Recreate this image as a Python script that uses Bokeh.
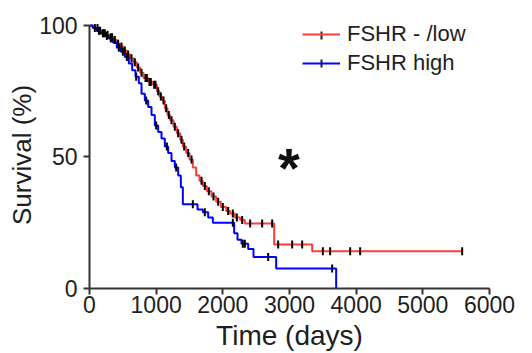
import numpy as np
from bokeh.plotting import figure
from bokeh.models import Range1d, Label, Legend, LegendItem, FixedTicker, BoxAnnotation, Title
from bokeh.embed import file_html
from bokeh.resources import INLINE

# ---- data: FSHR -/low (red) ----
low_times = [40, 90, 140, 190, 250, 300, 360, 410, 460, 510, 560, 610, 660, 710, 760,
             810, 880, 950, 1010, 1050, 1090, 1130, 1170, 1210, 1260, 1310, 1360, 1400,
             1450, 1500, 1550, 1600, 1650, 1700, 1760, 1830, 1900, 1970, 2050, 2110,
             2180, 2260, 2330, 2770, 3340]
low_surv = [99.5, 99, 98, 97, 96.5, 95.5, 94.5, 93, 92, 90.5, 89, 87.5, 86, 84, 82,
            80, 78.5, 77.5, 75, 73, 71.5, 68.5, 66, 64, 61.5, 59, 56.5, 54,
            51.5, 49, 46, 43, 41, 39, 37, 35, 33, 31, 29.5, 28.5,
            27, 26, 24.7, 16.7, 14.2]
low_end = 5590
low_censor = [120, 160, 210, 230, 270, 320, 340, 380, 430, 480, 530, 580, 630, 680, 730,
              780, 840, 860, 900, 920, 970, 990, 1030, 1070, 1110, 1150, 1190, 1230,
              1280, 1330, 1380, 1420, 1480, 1530, 1680, 1730, 1790, 1860, 1930, 2000,
              2080, 2150, 2210, 2290, 2410, 2590, 2740, 2830, 3040, 3190, 3500, 3610,
              3910, 4060, 5590]

# ---- data: FSHR high (blue) ----
high_times = [50, 110, 170, 230, 290, 350, 410, 470, 530, 590, 640, 690, 740, 780, 830,
              880, 930, 980, 1030, 1080, 1130, 1180, 1230, 1280, 1330, 1370, 1400, 1620,
              1700, 1780, 1850, 2170, 2220, 2280, 2380, 2460, 2800, 3700]
high_surv = [99, 98, 97, 96, 95, 93.5, 91.5, 90, 88, 85.5, 83, 80.5, 78, 74, 71.5,
             69, 66, 62, 59.5, 57, 54, 51.5, 48.5, 46, 43, 38.5, 32, 30,
             29, 27, 25, 21, 18.5, 17, 15, 12, 7.6, 0]
high_end = 3700
high_censor = [80, 140, 200, 260, 320, 440, 500, 560, 700, 850, 1000, 1160, 1300, 1550,
               1730, 2150, 2300, 2330, 2680, 3640]

labels = ["FSHR - /low", "FSHR high"]
x_ticks = [0, 1000, 2000, 3000, 4000, 5000, 6000]
y_ticks = [0, 50, 100]
x_title = "Time (days)"
y_title = "Survival (%)"


def step_xy(times, surv, end):
    xs, ys, prev = [0], [100], 100
    for t, s in zip(times, surv):
        xs += [t, t]
        ys += [prev, s]
        prev = s
    if end > xs[-1]:
        xs.append(end)
        ys.append(prev)
    return xs, ys


def surv_at(times, surv, t):
    val = 100
    for tt, s in zip(times, surv):
        if tt <= t:
            val = s
    return val


FONT = "Liberation Sans"
RED = "#ff3b3b"
BLUE = "#0000ff"
TXT = "#1e1e1e"

p = figure(width=532, height=353, output_backend="svg", toolbar_location=None,
           x_range=Range1d(0, 6000), y_range=Range1d(0, 101.5),
           min_border_left=89, min_border_right=43, min_border_top=21,
           min_border_bottom=65)
p.outline_line_color = None
p.grid.visible = False
p.background_fill_color = "white"
p.border_fill_color = "white"

lx, ly = step_xy(low_times, low_surv, low_end)
hx, hy = step_xy(high_times, high_surv, high_end)
r_low = p.line(lx, ly, line_color=RED, line_width=2)
r_high = p.line(hx, hy, line_color=BLUE, line_width=2)

for times, surv, cens in [(low_times, low_surv, low_censor), (high_times, high_surv, high_censor)]:
    cy = [surv_at(times, surv, c) for c in cens]
    p.scatter(cens, cy, marker="dash", angle=np.pi / 2, size=8,
              line_color="black", line_width=2)

legend = Legend(items=[LegendItem(label=labels[0], renderers=[r_low]),
                       LegendItem(label=labels[1], renderers=[r_high])],
                location=(213, 212), border_line_color=None,
                background_fill_alpha=0, padding=0, margin=0, spacing=3,
                glyph_width=38, glyph_height=22, label_height=22, label_standoff=7,
                label_text_font=FONT, label_text_font_size="22px",
                label_text_color=TXT, label_width=140)
p.add_layout(legend)

# censor ticks inside the legend glyphs (frame-relative screen px)
for yc in (253, 225):
    p.add_layout(BoxAnnotation(left=231, right=233, bottom=yc - 4, top=yc + 4,
                               left_units="screen", right_units="screen",
                               bottom_units="screen", top_units="screen",
                               fill_color="#222222", fill_alpha=1, line_color=None))

p.add_layout(Label(x=2990, y=46, text="*", text_font=FONT, text_font_size="56px",
                   text_font_style="bold", text_align="center", text_baseline="middle",
                   text_color="#111111"))

for ax in (p.xaxis[0], p.yaxis[0]):
    ax.axis_line_width = 2
    ax.axis_line_color = "#333333"
    ax.major_tick_line_width = 2
    ax.major_tick_line_color = "#333333"
    ax.major_tick_out = 6
    ax.major_tick_in = 0
    ax.minor_tick_line_color = None
    ax.major_label_text_font = FONT
    ax.major_label_text_font_size = "23px"
    ax.major_label_text_color = TXT

p.xaxis[0].ticker = FixedTicker(ticks=x_ticks)
p.yaxis[0].ticker = FixedTicker(ticks=y_ticks)
p.yaxis[0].bounds = (0, 100)
p.xaxis[0].major_label_standoff = 1
p.yaxis[0].major_label_standoff = 6

# axis titles as side-panel titles so they can be shifted like in the reference
p.add_layout(Title(text=x_title, align="center", offset=16, standoff=4,
                   text_font=FONT, text_font_size="28px", text_font_style="normal",
                   text_color=TXT), "below")
p.add_layout(Title(text=y_title, align="center", offset=-12, standoff=0,
                   text_font=FONT, text_font_size="26px", text_font_style="normal",
                   text_color=TXT), "left")

open("out.html", "w").write(file_html(p, INLINE))
